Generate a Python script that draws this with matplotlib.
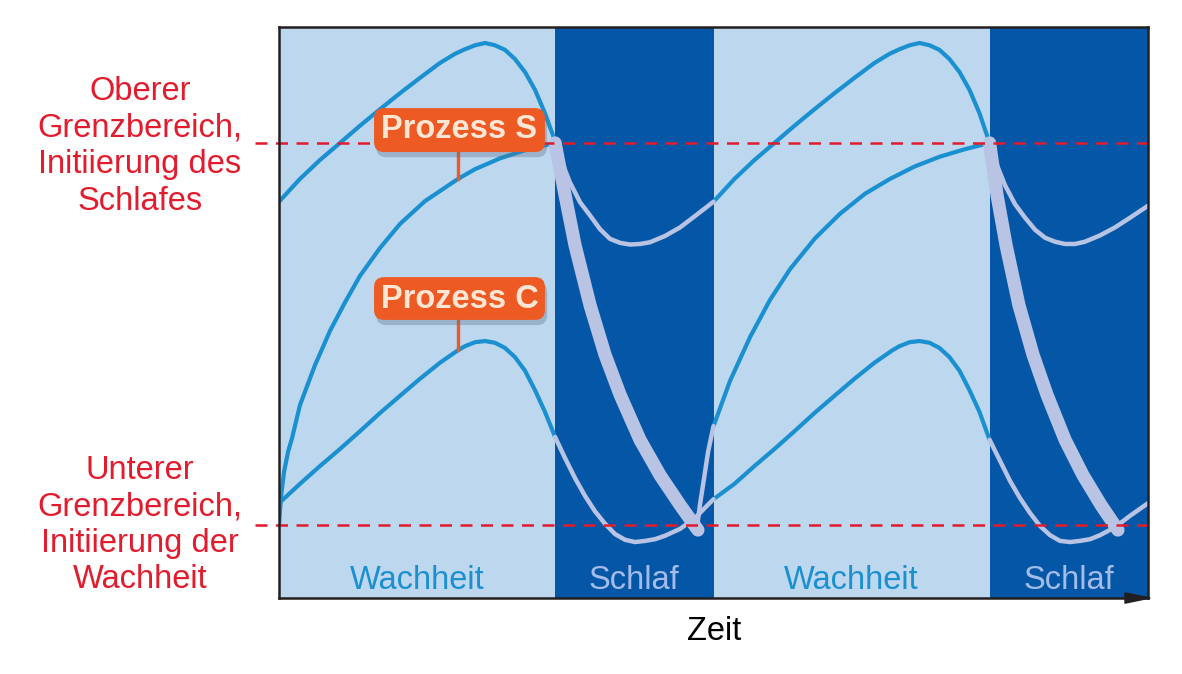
import matplotlib.pyplot as plt
import matplotlib.transforms as mtransforms
from matplotlib.patches import FancyBboxPatch, Polygon

plt.rcParams['font.family'] = ['Liberation Sans', 'DejaVu Sans']

# time in hours (two days), level on a 0..100 scale
wake_spans = [(0, 15.25), (24, 39.25)]
sleep_spans = [(15.25, 24), (39.25, 48)]
wake_labels = ["Wachheit", "Wachheit"]
sleep_labels = ["Schlaf", "Schlaf"]
upper_limit = 79.7
lower_limit = 12.8

# upper curve (threshold modulated by process C)
up_wake1_t = [0, 1.16, 2.26, 3.37, 4.47, 5.58, 6.68, 7.79, 8.89, 9.72, 10.27, 10.83,
              11.38, 11.93, 12.48, 13.03, 13.59, 14.14, 14.69, 15.25]
up_wake1_v = [69.4, 73.4, 76.7, 79.7, 82.7, 85.6, 88.4, 91.1, 93.7, 95.3, 96.1, 96.8,
              97.2, 96.8, 96.0, 94.4, 92.1, 89.0, 84.9, 80.0]
up_sleep1_t = [15.25, 15.63, 16.07, 16.63, 17.18, 17.73, 18.28, 18.84, 19.39, 19.94,
               20.49, 21.32, 22.15, 22.98, 24]
up_sleep1_v = [80.0, 76.3, 72.8, 69.3, 67.0, 64.6, 62.9, 62.2, 61.9, 62.0,
               62.3, 63.4, 64.9, 66.9, 69.4]
up_wake2_t = [24, 25.16, 26.26, 27.37, 28.47, 29.58, 30.68, 31.79, 32.89, 33.72, 34.27,
              34.83, 35.38, 35.93, 36.48, 37.03, 37.59, 38.14, 38.69, 39.25]
up_wake2_v = [69.4, 73.4, 76.7, 79.7, 82.7, 85.6, 88.4, 91.1, 93.7, 95.3, 96.1,
              96.8, 97.2, 96.8, 96.0, 94.4, 92.1, 89.0, 84.9, 79.7]
up_sleep2_t = [39.25, 39.66, 40.10, 40.65, 41.21, 41.76, 42.31, 42.86, 43.42, 43.97,
               44.52, 45.35, 46.18, 47.01, 48]
up_sleep2_v = [79.7, 75.8, 72.3, 69.0, 66.6, 64.5, 63.1, 62.4, 62.0, 62.0,
               62.4, 63.5, 64.9, 66.6, 68.7]

# process S
s_wake1_t = [0, 0.11, 0.28, 0.50, 0.72, 1.16, 1.99, 2.82, 3.65, 4.47, 5.58, 6.68,
             8.06, 9.89, 10.83, 12.21, 13.86, 15.25]
s_wake1_v = [12.8, 17.7, 22.1, 25.6, 28.0, 33.8, 40.8, 46.8, 51.8, 56.4, 61.3, 65.5,
             69.5, 73.4, 75.1, 77.0, 78.7, 79.7]
s_fall1_t = [15.25, 15.80, 16.35, 17.18, 18.01, 18.84, 19.94, 21.05, 22.15, 23.14]
s_fall1_v = [79.7, 70.6, 61.8, 51.3, 42.6, 35.6, 27.7, 21.5, 16.3, 11.9]
s_rise_t = [23.09, 23.25, 23.48, 23.70, 24]
s_rise_v = [12.3, 16.3, 21.0, 25.6, 30.1]
s_wake2_t = [24, 24.91, 26.02, 27.12, 28.23, 29.61, 30.99, 32.37, 33.75, 35.13,
             36.51, 37.89, 39.25]
s_wake2_v = [30.1, 38.0, 45.7, 52.2, 57.6, 63.0, 67.3, 70.8, 73.4, 75.6,
             77.3, 78.6, 79.7]
s_fall2_t = [39.25, 39.66, 40.16, 40.87, 41.65, 42.42, 43.42, 44.41, 45.40, 46.34]
s_fall2_v = [79.7, 70.6, 61.8, 51.3, 42.6, 35.6, 27.7, 21.5, 16.3, 11.9]

# process C
c_wake1_t = [0, 1.16, 2.26, 3.37, 4.47, 5.58, 6.68, 7.79, 8.89, 9.89, 10.27, 10.83,
             11.38, 11.93, 12.48, 13.03, 13.59, 14.14, 14.69, 15.25]
c_wake1_v = [16.6, 20.0, 23.1, 26.1, 29.2, 32.4, 35.4, 38.4, 41.2, 43.4, 44.1, 44.8,
             45.0, 44.7, 43.8, 42.2, 39.8, 36.4, 32.6, 28.2]
c_sleep1_t = [15.25, 15.80, 16.35, 16.90, 17.45, 18.01, 18.56, 19.11, 19.66, 20.22,
              20.77, 21.32, 22.15, 22.98, 23.53, 24]
c_sleep1_v = [28.2, 24.5, 21.0, 17.9, 15.2, 13.0, 11.2, 10.2, 9.8, 10.0,
              10.3, 10.9, 12.1, 14.0, 15.8, 17.3]
c_wake2_t = [24, 25.16, 26.26, 27.37, 28.47, 29.58, 30.68, 31.79, 32.89, 33.89, 34.27,
             34.83, 35.38, 35.93, 36.48, 37.03, 37.59, 38.14, 38.69, 39.25]
c_wake2_v = [17.3, 20.0, 23.1, 26.1, 29.2, 32.4, 35.4, 38.4, 41.2, 43.4, 44.1, 44.8,
             45.0, 44.7, 43.8, 42.2, 39.8, 36.4, 32.6, 27.7]
c_sleep2_t = [39.25, 39.83, 40.38, 40.93, 41.48, 42.04, 42.59, 43.14, 43.69, 44.24,
              44.80, 45.35, 46.18, 47.01, 48]
c_sleep2_v = [27.7, 24.0, 20.5, 17.5, 14.9, 12.6, 11.0, 10.0, 9.8, 10.0,
              10.3, 11.0, 12.4, 14.4, 16.6]

light_bg = '#BDD7EE'
dark_bg = '#0457A7'
curve_blue = '#1A90D0'
curve_light = '#B9C3E4'
red = '#E21B2D'
orange = '#EE5A24'

fig = plt.figure(figsize=(11.82, 6.74), dpi=100)
ax = fig.add_axes([279 / 1182, 1 - 598 / 674, 869 / 1182, 571 / 674])
ax.set_xlim(0, 48)
ax.set_ylim(0, 100)

for a, b in wake_spans:
    ax.axvspan(a, b, color=light_bg, lw=0, zorder=0)
for a, b in sleep_spans:
    ax.axvspan(a, b, color=dark_bg, lw=0, zorder=0)

for t, v in [(up_wake1_t, up_wake1_v), (up_wake2_t, up_wake2_v),
             (s_wake1_t, s_wake1_v), (s_wake2_t, s_wake2_v),
             (c_wake1_t, c_wake1_v), (c_wake2_t, c_wake2_v)]:
    ax.plot(t, v, color=curve_blue, lw=3, solid_capstyle='butt', solid_joinstyle='round', zorder=3)

for t, v in [(up_sleep1_t, up_sleep1_v), (up_sleep2_t, up_sleep2_v),
             (c_sleep1_t, c_sleep1_v), (c_sleep2_t, c_sleep2_v), (s_rise_t, s_rise_v)]:
    ax.plot(t, v, color=curve_light, lw=3.2, solid_capstyle='round', solid_joinstyle='round', zorder=3)

for t, v in [(s_fall1_t, s_fall1_v), (s_fall2_t, s_fall2_v)]:
    ax.plot(t, v, color=curve_light, lw=9.5, solid_capstyle='round', solid_joinstyle='round', zorder=4)

# threshold lines, starting a bit left of the frame
for lvl in [upper_limit, lower_limit]:
    ax.plot([-1.33, 48], [lvl, lvl], color=red, lw=1.8, ls=(0, (4.8, 3.4)),
            clip_on=False, zorder=5)

# band labels
for (a, b), lab in zip(wake_spans, wake_labels):
    ax.text((a + b) / 2, 1.6, lab, color=curve_blue, fontsize=23.5,
            ha='center', va='baseline', zorder=6)
for (a, b), lab in zip(sleep_spans, sleep_labels):
    ax.text((a + b) / 2, 1.6, lab, color='#A6BCE8', fontsize=23.5,
            ha='center', va='baseline', zorder=6)

# process labels
aspect = (571 / 100) / (869 / 48)
for name, box_v, base_v, t_list, v_list, idx in [
        ("Prozess S", (78.1, 85.8), 80.6, s_wake1_t, s_wake1_v, 13),
        ("Prozess C", (48.7, 56.2), 50.8, c_wake1_t, c_wake1_v, 9)]:
    x0, x1 = 5.25, 14.69
    stem_x = t_list[idx]
    ax.plot([stem_x, stem_x], [box_v[0], v_list[idx]], color=orange, lw=2.4, zorder=6)
    shadow = FancyBboxPatch((x0 + 0.12, box_v[0] - 0.9), x1 - x0, box_v[1] - box_v[0],
                            boxstyle="round,pad=0,rounding_size=0.55",
                            mutation_aspect=1 / aspect, fc='#5A6E8C', ec='none',
                            alpha=0.35, zorder=6)
    ax.add_patch(shadow)
    box = FancyBboxPatch((x0, box_v[0]), x1 - x0, box_v[1] - box_v[0],
                         boxstyle="round,pad=0,rounding_size=0.55",
                         mutation_aspect=1 / aspect, fc=orange, ec='none', zorder=7)
    ax.add_patch(box)
    ax.text((x0 + x1) / 2, base_v, name, color='#FDE6D4', fontsize=23.5,
            fontweight='bold', ha='center', va='baseline', zorder=8)

# left side labels
trans = mtransforms.blended_transform_factory(ax.transAxes, ax.transData)
ax.text(-0.16, upper_limit - 0.6, "Oberer\nGrenzbereich,\nInitiierung des\nSchlafes",
        transform=trans, color=red, fontsize=23.5, ha='center', va='center',
        multialignment='center', linespacing=1.23)
ax.text(-0.16, lower_limit, "Unterer\nGrenzbereich,\nInitiierung der\nWachheit",
        transform=trans, color=red, fontsize=23.5, ha='center', va='center',
        multialignment='center', linespacing=1.23)

# frame and time arrow
for side in ['left', 'top', 'right', 'bottom']:
    ax.spines[side].set_color('#231F20')
    ax.spines[side].set_linewidth(1.8)
    ax.spines[side].set_zorder(9)
ax.set_xticks([])
ax.set_yticks([])
arrow = Polygon([[0.9735, -0.009], [1.0025, 0.0], [0.9735, 0.009]], closed=True,
                transform=ax.transAxes, color='#231F20', clip_on=False, zorder=10)
ax.add_patch(arrow)
fig.text(714 / 1182, 1 - 640 / 674, "Zeit", fontsize=23.5, color='black',
         ha='center', va='baseline')

fig.savefig("out.png", dpi=100)
